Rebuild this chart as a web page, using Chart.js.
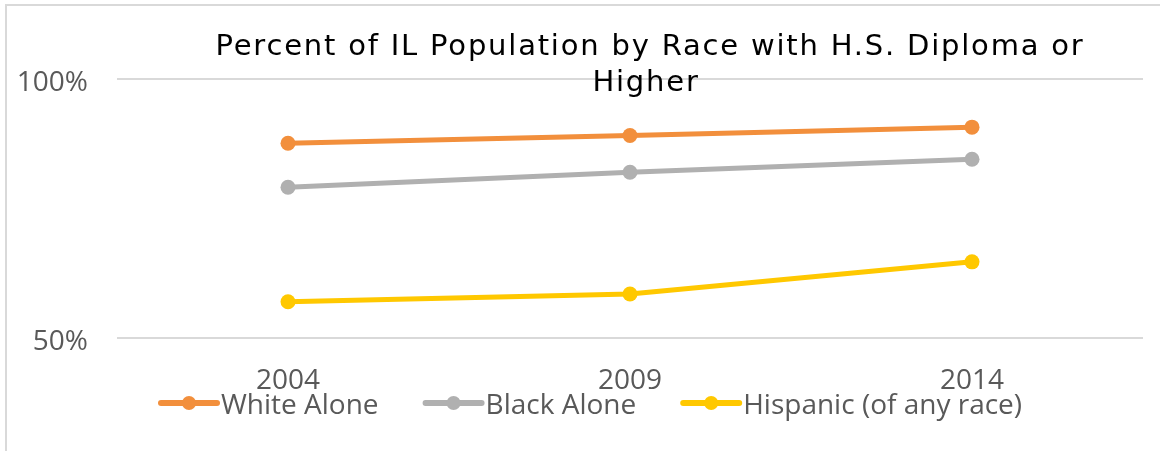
<!DOCTYPE html>
<html>
<head>
<meta charset="utf-8">
<script src="https://cdn.jsdelivr.net/npm/chart.js@4"></script>
<style>
  html, body { margin: 0; padding: 0; background: #fff; }
  canvas { display: block; }
</style>
</head>
<body>
<canvas id="chart" width="1160" height="451"></canvas>
<script>
const years = ['2004', '2009', '2014'];
const whiteAlone = [87.6, 89.1, 90.7];
const blackAlone = [79.1, 82.0, 84.5];
const hispanic = [57.0, 58.5, 64.7];
const seriesNames = ['White Alone', 'Black Alone', 'Hispanic (of any race)'];
const seriesColors = ['#F28F3C', '#B0B0B0', '#FFC800'];
const titleLines = ['Percent of IL Population by Race with H.S. Diploma or', 'Higher'];

const tickFont = '"Open Sans", sans-serif';

const frameAndText = {
  id: 'frameAndText',
  afterDraw(chart) {
    const ctx = chart.ctx;
    ctx.save();
    // outer frame
    ctx.strokeStyle = '#D9D9D9';
    ctx.lineWidth = 2;
    ctx.strokeRect(6, 5, 1170, 460);

    // title, drawn over the plot like the original
    ctx.fillStyle = '#000';
    ctx.font = '29px "DejaVu Sans", sans-serif';
    ctx.letterSpacing = '1.8px';
    ctx.textAlign = 'center';
    ctx.textBaseline = 'alphabetic';
    ctx.fillText(titleLines[0], 650, 55);
    ctx.fillText(titleLines[1], 646, 91);
    ctx.letterSpacing = '0px';

    // legend
    ctx.font = '28px ' + tickFont;
    ctx.textAlign = 'left';
    ctx.textBaseline = 'middle';
    let x = 161;
    const y = 403;
    chart.data.datasets.forEach(ds => {
      ctx.strokeStyle = ds.borderColor;
      ctx.lineWidth = 6;
      ctx.lineCap = 'round';
      ctx.beginPath();
      ctx.moveTo(x, y);
      ctx.lineTo(x + 56, y);
      ctx.stroke();
      ctx.fillStyle = ds.borderColor;
      ctx.beginPath();
      ctx.arc(x + 28, y, 7, 0, Math.PI * 2);
      ctx.fill();
      ctx.fillStyle = '#595959';
      ctx.fillText(ds.label, x + 60, y + 3);
      x += 60 + ctx.measureText(ds.label).width + 47;
    });
    ctx.restore();
  }
};

new Chart(document.getElementById('chart').getContext('2d'), {
  type: 'line',
  data: {
    labels: years,
    datasets: [whiteAlone, blackAlone, hispanic].map((d, i) => ({
      label: seriesNames[i],
      data: d,
      borderColor: seriesColors[i],
      backgroundColor: seriesColors[i],
      borderWidth: 5,
      pointRadius: 7.5,
      pointHoverRadius: 7.5,
      pointBorderWidth: 0,
      tension: 0,
      fill: false
    }))
  },
  options: {
    responsive: false,
    animation: false,
    layout: { padding: { top: 79, right: 17, left: 0, bottom: 0 } },
    plugins: {
      legend: { display: false },
      title: { display: false },
      tooltip: { enabled: false }
    },
    scales: {
      x: {
        offset: true,
        grid: { display: false, drawTicks: false },
        border: { display: false },
        ticks: { color: '#595959', font: { family: tickFont, size: 28 }, padding: 26, maxRotation: 0 },
        afterFit(scale) { scale.height = 113; }
      },
      y: {
        min: 50,
        max: 100,
        grid: { color: '#D9D9D9', lineWidth: 2, drawTicks: false },
        border: { display: false },
        ticks: {
          stepSize: 50,
          color: '#595959',
          font: { family: tickFont, size: 28, lineHeight: 0.3 },
          padding: 29,
          // empty first line nudges the label a few px below its gridline
          callback: v => ['', v + '%']
        },
        afterFit(scale) { scale.width = 117; }
      }
    }
  },
  plugins: [frameAndText]
});
</script>
</body>
</html>
